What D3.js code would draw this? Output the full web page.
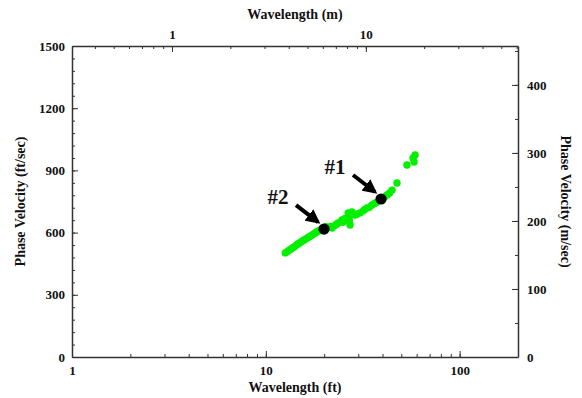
<!DOCTYPE html>
<html>
<head>
<meta charset="utf-8">
<script src="https://cdn.jsdelivr.net/npm/d3@7"></script>
<style>
	body { margin: 0; background: #fff; }
	svg text { font-family: "Liberation Serif", "Times New Roman", serif; font-weight: bold; fill: #111; }
	.axis path, .axis line { stroke: #333; }
</style>
</head>
<body>
<svg class="chart" width="582" height="398"></svg>
<script>
// Static data
const wavelengthFt = [12.6, 12.9, 13.2, 13.5, 13.8, 14.1, 14.4, 14.7, 15.0, 15.3, 15.6, 15.9, 16.3, 16.7, 17.1, 17.5, 17.9, 18.3, 18.7, 19.1, 19.5, 20.4,
	21.0, 22.0, 22.8, 23.6, 24.7, 25.6, 26.6, 26.9, 27.2, 27.0, 28.9, 30.6, 31.8, 33.3, 35.3, 37.2, 42.2, 44.8, 47.5, 53.5, 57.5, 58.2, 58.9,
	21.6, 23.2, 25.0, 27.8, 29.6, 32.4, 34.2, 36.4, 41.0, 43.4];
const velocityFt = [502, 508, 515, 521, 527, 533, 540, 546, 551, 557, 562, 567, 573, 579, 585, 591, 597, 603, 608, 613, 617, 628,
	624, 622, 635, 646, 661, 668, 695, 670, 637, 652, 685, 695, 705, 719, 733, 745, 781, 805, 839, 926, 960, 940, 974,
	630, 640, 650, 700, 690, 712, 722, 740, 772, 790];

const pointNames = ['#1', '#2'];
const pointWavelength = [39.3, 19.97];
const pointVelocity = [762, 617];

const xTicksFt = [1, 10, 100];
const xTicksM = [1, 10];
const yTicksFt = [0, 300, 600, 900, 1200, 1500];
const yTicksM = [0, 100, 200, 300, 400];

const FT_TO_M = 0.3048;

const margin = { top: 46, right: 64, bottom: 41, left: 72 };
const width = 582, height = 398;

const chart = d3.select('.chart');

// scales
const x = d3.scaleLog().domain([1, 200]).range([margin.left, width - margin.right]);
const xm = d3.scaleLog().domain([1 * FT_TO_M, 200 * FT_TO_M]).range(x.range());
const y = d3.scaleLinear().domain([0, 1500]).range([height - margin.bottom, margin.top]);
const ym = d3.scaleLinear().domain([0, 1500 * FT_TO_M]).range(y.range());

const logMinors = (lo, hi) => {
	const out = [];
	for (let p = -1; p <= 3; p++) {
		for (let k = 1; k <= 9; k++) {
			const v = k * Math.pow(10, p);
			if (v > lo && v < hi) out.push(v);
		}
	}
	return out;
};

const bottomY = y(0), topY = y(1500);

// minor ticks
chart.append('g').attr('class', 'axis')
	.attr('transform', `translate(0, ${bottomY})`)
	.call(d3.axisBottom(x).tickValues(logMinors(1, 200)).tickSize(-3).tickFormat(''))
	.call(g => g.select('.domain').remove());
chart.append('g').attr('class', 'axis')
	.attr('transform', `translate(0, ${topY})`)
	.call(d3.axisTop(xm).tickValues(logMinors(xm.domain()[0], xm.domain()[1])).tickSize(-3).tickFormat(''))
	.call(g => g.select('.domain').remove());
chart.append('g').attr('class', 'axis')
	.attr('transform', `translate(${x(1)}, 0)`)
	.call(d3.axisLeft(y).tickValues(d3.range(60, 1500, 60)).tickSize(-3).tickFormat(''))
	.call(g => g.select('.domain').remove());
chart.append('g').attr('class', 'axis')
	.attr('transform', `translate(${x(200)}, 0)`)
	.call(d3.axisRight(ym).tickValues(d3.range(50, 457, 50)).tickSize(-3).tickFormat(''))
	.call(g => g.select('.domain').remove());

// major axes
const styleAxis = g => {
	g.attr('font-family', '"Liberation Serif", serif').attr('font-size', 13);
	g.select('.domain').attr('stroke-width', 1.5);
	g.selectAll('.tick text').style('font-size', '13px');
};

chart.append('g').attr('class', 'axis')
	.attr('transform', `translate(0, ${bottomY})`)
	.call(d3.axisBottom(x).tickValues(xTicksFt).tickFormat(d3.format('d')).tickSize(-6).tickSizeOuter(0).tickPadding(9))
	.call(styleAxis);
chart.append('g').attr('class', 'axis')
	.attr('transform', `translate(0, ${topY})`)
	.call(d3.axisTop(xm).tickValues(xTicksM).tickFormat(d3.format('d')).tickSize(-6).tickSizeOuter(0).tickPadding(7))
	.call(styleAxis);
chart.append('g').attr('class', 'axis')
	.attr('transform', `translate(${x(1)}, 0)`)
	.call(d3.axisLeft(y).tickValues(yTicksFt).tickFormat(d3.format('d')).tickSize(-6).tickSizeOuter(0).tickPadding(7))
	.call(styleAxis);
chart.append('g').attr('class', 'axis')
	.attr('transform', `translate(${x(200)}, 0)`)
	.call(d3.axisRight(ym).tickValues(yTicksM).tickFormat(d3.format('d')).tickSize(-6).tickSizeOuter(0).tickPadding(9))
	.call(styleAxis);

chart.selectAll('.axis .tick text').attr('fill', '#111');

// axis titles
const cx = (x(1) + x(200)) / 2, cy = (y(0) + y(1500)) / 2;
chart.append('text').attr('x', cx).attr('y', 19).attr('text-anchor', 'middle')
	.style('font-size', '14px').text('Wavelength (m)');
chart.append('text').attr('x', cx).attr('y', 392).attr('text-anchor', 'middle')
	.style('font-size', '14px').text('Wavelength (ft)');
chart.append('text').attr('transform', `translate(25, ${cy}) rotate(-90)`).attr('text-anchor', 'middle')
	.style('font-size', '14px').text('Phase Velocity (ft/sec)');
chart.append('text').attr('transform', `translate(561, ${cy}) rotate(90)`).attr('text-anchor', 'middle')
	.style('font-size', '14px').text('Phase Velocity (m/sec)');

// data points
chart.append('g').selectAll('circle')
	.data(wavelengthFt)
	.enter().append('circle')
	.attr('cx', d => x(d))
	.attr('cy', (d, i) => y(velocityFt[i]))
	.attr('r', 3.7)
	.attr('fill', '#00f000');

// marker points with arrows
const defs = chart.append('defs');
defs.append('marker')
	.attr('id', 'arrow')
	.attr('viewBox', '0 0 10 10')
	.attr('refX', 8).attr('refY', 5)
	.attr('markerWidth', 3.6).attr('markerHeight', 3.6)
	.attr('orient', 'auto')
	.append('path').attr('d', 'M0,0 L10,5 L0,10 z').attr('fill', '#000');

const marks = chart.append('g').selectAll('.mark')
	.data(pointNames)
	.enter().append('g')
	.attr('class', 'mark')
	.attr('transform', (d, i) => `translate(${x(pointWavelength[i])}, ${y(pointVelocity[i])})`);

marks.append('line')
	.attr('x1', -28).attr('y1', -24)
	.attr('x2', -6).attr('y2', -7)
	.attr('stroke', '#000').attr('stroke-width', 4)
	.attr('marker-end', 'url(#arrow)');

marks.append('circle')
	.attr('r', 5.6)
	.attr('fill', '#000');

marks.append('text')
	.attr('x', -46).attr('y', -25)
	.attr('text-anchor', 'middle')
	.style('font-size', '21px')
	.text(d => d);
</script>
</body>
</html>
